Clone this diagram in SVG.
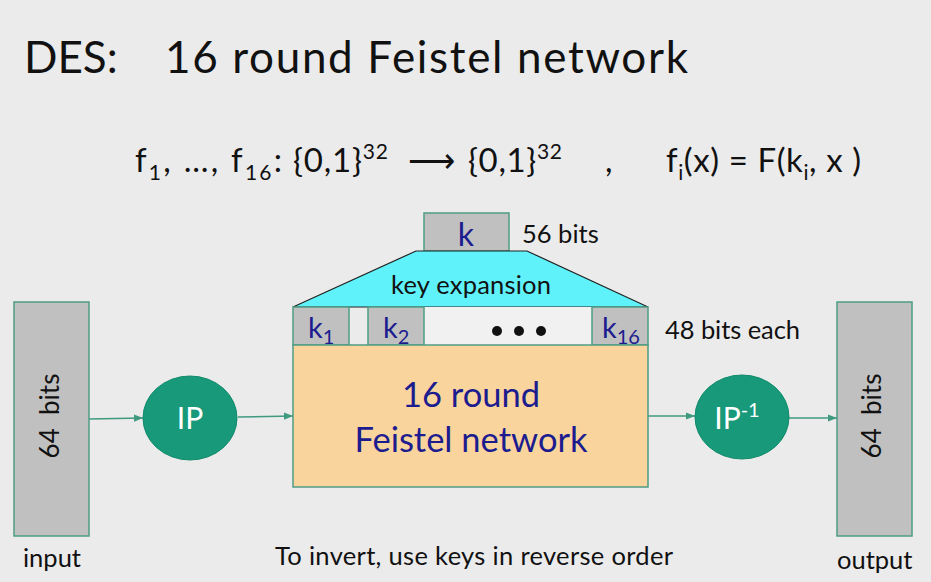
<svg xmlns="http://www.w3.org/2000/svg" width="931" height="582" viewBox="0 0 931 582">
<defs>
<style>
text{font-family:Lato,"Open Sans","Liberation Sans",sans-serif;fill:#111}
.box{fill:#c0c0c0;stroke:#4f9c84;stroke-width:1.5}
.ell{fill:#17997a;stroke:#0f8a6a;stroke-width:1}
.wt{fill:#fff;font-size:30px;text-anchor:middle}
.blue{fill:#1c1c8f}
.lbl{font-size:25.5px}
.fm{font-size:33px}
.conn{stroke:#3f9a80;stroke-width:1.5;fill:none;marker-end:url(#ah)}
</style>
<marker id="ah" viewBox="0 0 10 10" refX="10" refY="5" markerWidth="6" markerHeight="6" orient="auto"><path d="M0,1 L10,5 L0,9 z" fill="#3f9a80"/></marker>
</defs>
<rect width="931" height="582" fill="#ebebeb"/>
<text x="24" y="73" font-size="44">DES:</text>
<text x="165" y="73" font-size="44" textLength="523">16 round Feistel network</text>
<g id="formula">
<text class="fm" x="135" y="172" textLength="147">f<tspan font-size="21" dy="8">1</tspan><tspan dy="-8">, …, f</tspan><tspan font-size="21" dy="8">16</tspan><tspan dy="-8">:</tspan></text>
<text class="fm" x="293" y="172" textLength="95">{0,1}<tspan font-size="21" dy="-13">32</tspan></text>
<text class="fm" x="408" y="172" textLength="51">⟶</text>
<text class="fm" x="468" y="172" textLength="94">{0,1}<tspan font-size="21" dy="-13">32</tspan></text>
<text class="fm" x="605" y="172">,</text>
<text class="fm" x="666" y="172" textLength="195">f<tspan font-size="21" dy="8">i</tspan><tspan dy="-8">(x) = F(k</tspan><tspan font-size="21" dy="8">i</tspan><tspan dy="-8">, x )</tspan></text>
</g>
<g id="connectors">
<line class="conn" x1="89" y1="419" x2="143" y2="418"/>
<line class="conn" x1="238" y1="417" x2="293" y2="416"/>
<line class="conn" x1="648" y1="416" x2="695" y2="416"/>
<line class="conn" x1="789" y1="418" x2="837" y2="418"/>
</g>
<g id="input">
<rect class="box" x="14" y="302" width="75" height="234"/>
<text transform="translate(59,416) rotate(-90)" font-size="26" text-anchor="middle" xml:space="preserve">64  bits</text>
<text x="23" y="567" class="lbl">input</text>
</g>
<g id="ip">
<ellipse class="ell" cx="190" cy="418" rx="47" ry="42"/>
<text x="190" y="429" class="wt">IP</text>
</g>
<g id="key">
<rect class="box" x="424" y="213" width="85" height="38"/>
<text x="466" y="246" font-size="32" class="blue" text-anchor="middle">k</text>
<text x="522" y="243" class="lbl">56 bits</text>
</g>
<g id="keyexp">
<path d="M416,251 L527,251 L648,307 L293,307 Z" fill="#5ff2fa" stroke="#222" stroke-width="1.2"/>
<text x="471" y="294" class="lbl" text-anchor="middle" textLength="160">key expansion</text>
</g>
<g id="subkeys">
<rect x="424" y="307" width="168" height="38" fill="#f1f1f1"/>
<rect class="box" x="293" y="307" width="56" height="38"/>
<text x="308" y="338" font-size="29" class="blue">k<tspan font-size="20" dy="6">1</tspan></text>
<rect class="box" x="368" y="307" width="56" height="38"/>
<text x="383" y="338" font-size="29" class="blue">k<tspan font-size="20" dy="6">2</tspan></text>
<circle cx="497" cy="331" r="5" fill="#111"/>
<circle cx="519" cy="331" r="5" fill="#111"/>
<circle cx="541" cy="331" r="5" fill="#111"/>
<rect class="box" x="592" y="307" width="56" height="38"/>
<text x="602" y="338" font-size="29" class="blue">k<tspan font-size="20" dy="6">16</tspan></text>
<text x="665" y="339" class="lbl" textLength="135">48 bits each</text>
</g>
<g id="feistel">
<rect x="293" y="345" width="355" height="142" fill="#f9d49d" stroke="#4f9c84" stroke-width="1.5"/>
<text x="471" y="407" font-size="34.5" class="blue" text-anchor="middle">16 round</text>
<text x="471" y="452" font-size="34.5" class="blue" text-anchor="middle">Feistel network</text>
</g>
<g id="ipinv">
<ellipse class="ell" cx="742" cy="417" rx="47" ry="42"/>
<text x="737" y="429" class="wt">IP<tspan font-size="20" dy="-12">-1</tspan></text>
</g>
<g id="output">
<rect class="box" x="837" y="302" width="75" height="234"/>
<text transform="translate(881,416) rotate(-90)" font-size="26" text-anchor="middle" xml:space="preserve">64  bits</text>
<text x="837" y="569" class="lbl">output</text>
</g>
<text x="275" y="565" class="lbl" textLength="398">To invert, use keys in reverse order</text>
</svg>
